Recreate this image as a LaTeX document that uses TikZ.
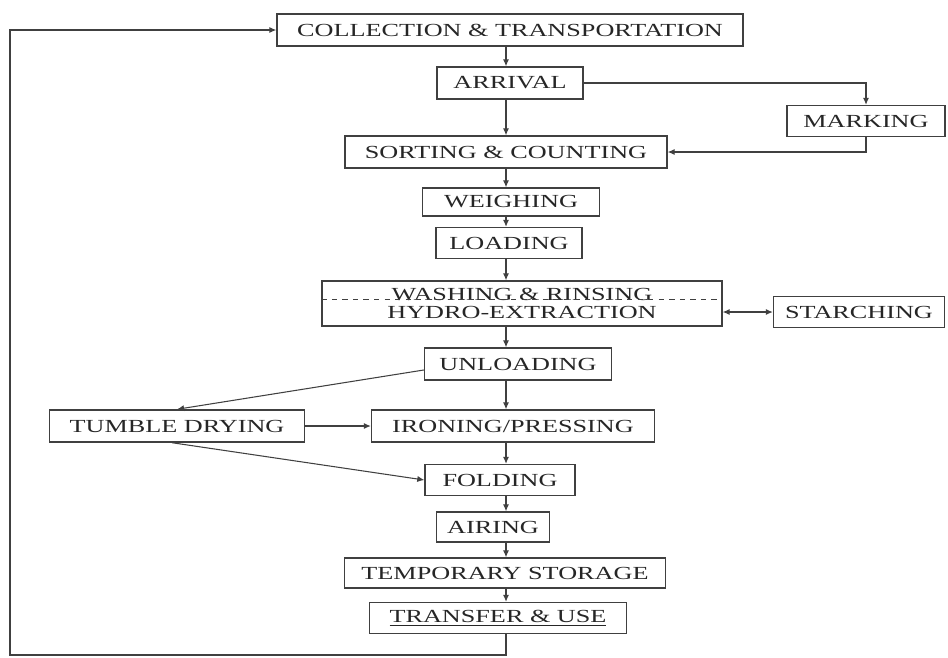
\documentclass[tikz,border=0pt]{standalone}
\usepackage{fontspec}
\setmainfont{Liberation Serif}[FakeStretch=1.42]
\usetikzlibrary{arrows.meta}
\usetikzlibrary{positioning}

\begin{document}
\begin{tikzpicture}[node distance=1cm,on grid,
    >={Latex[length=4pt,width=3.5pt]},
    line/.style={draw=black!75,line width=0.6pt},
    box/.style={draw=black!75,line width=0.8pt,rectangle,inner sep=0pt,
        minimum height=0.64cm,text=black!85,font=\fontsize{10.5pt}{10.2pt}\selectfont}]
    \useasboundingbox (0,0) rectangle (18.96,-13.16);
    % main column
    \node[box,minimum width=9.32cm] (coll) at (10.20,-0.60) {COLLECTION \& TRANSPORTATION};
    \node[box,minimum width=2.92cm] [below=1.06 of coll] (arr) {ARRIVAL};
    \node[box,minimum width=3.16cm,minimum height=0.62cm] [below right=0.76 and 7.12 of arr] (mark) {MARKING};
    \node[box,minimum width=6.44cm] [below=1.38 of arr,xshift=-0.08cm] (sort) {SORTING \& COUNTING};
    \node[box,minimum width=3.54cm,minimum height=0.56cm] [below=1.00 of sort,xshift=0.10cm] (weigh) {WEIGHING};
    \node[box,minimum width=2.92cm,minimum height=0.62cm] [below=0.82 of weigh,xshift=-0.04cm] (load) {LOADING};
    \node[box,minimum width=8.00cm,minimum height=0.90cm,align=center] [below=1.21 of load,xshift=0.26cm] (wash)
        {WASHING \& RINSING\\HYDRO-EXTRACTION};
    \node[box,minimum width=3.42cm,minimum height=0.62cm] [below right=0.17 and 6.74 of wash] (starch) {STARCHING};
    \node[box,minimum width=3.74cm] [below=1.21 of wash,xshift=-0.08cm] (unload) {UNLOADING};
    \node[box,minimum width=5.66cm] [below=1.24 of unload,xshift=-0.10cm] (iron) {IRONING/PRESSING};
    \node[box,minimum width=5.10cm] [left=6.72 of iron] (tumble) {TUMBLE DRYING};
    \node[box,minimum width=3.00cm,minimum height=0.62cm] [below=1.08 of iron,xshift=-0.26cm] (fold) {FOLDING};
    \node[box,minimum width=2.26cm,minimum height=0.60cm] [below=0.94 of fold,xshift=-0.14cm] (air) {AIRING};
    \node[box,minimum width=6.42cm,minimum height=0.60cm] [below=0.92 of air,xshift=0.24cm] (temp) {TEMPORARY STORAGE};
    \node[box,minimum width=5.14cm,minimum height=0.62cm] [below=0.90 of temp,xshift=-0.14cm] (trans) {\underline{TRANSFER \& USE}};
    \draw[line,dashed,line width=0.5pt] ([yshift=0.09cm]wash.west) -- ([yshift=0.09cm]wash.east);

    \coordinate (spine) at (10.12,0);
    \coordinate (low) at (0.20,-13.10);

    \path[->,color=black!75,line width=0.6pt]
    (coll.south -| spine) edge (arr.north -| spine)
    (arr.south -| spine) edge (sort.north -| spine)
    (sort.south -| spine) edge (weigh.north -| spine)
    (weigh.south -| spine) edge (load.north -| spine)
    (load.south -| spine) edge (wash.north -| spine)
    (wash.south -| spine) edge (unload.north -| spine)
    (unload.south -| spine) edge (iron.north -| spine)
    (iron.south -| spine) edge (fold.north -| spine)
    (fold.south -| spine) edge (air.north -| spine)
    (air.south -| spine) edge (temp.north -| spine)
    (temp.south -| spine) edge (trans.north -| spine)
    ([yshift=-0.12cm]unload.west) edge (tumble.north)
    (tumble.east) edge (iron.west)
    ([xshift=-0.1cm]tumble.south) edge (fold.west);
    \draw[line,->] (arr.east) -| (mark.north);
    \draw[line,->] (mark.south) |- (sort.east);
    \draw[line,<->] (wash.east |- starch.west) -- (starch.west);
    \draw[line,->] (trans.south -| spine) |- (low) |- (coll.west);
\end{tikzpicture}
\end{document}
